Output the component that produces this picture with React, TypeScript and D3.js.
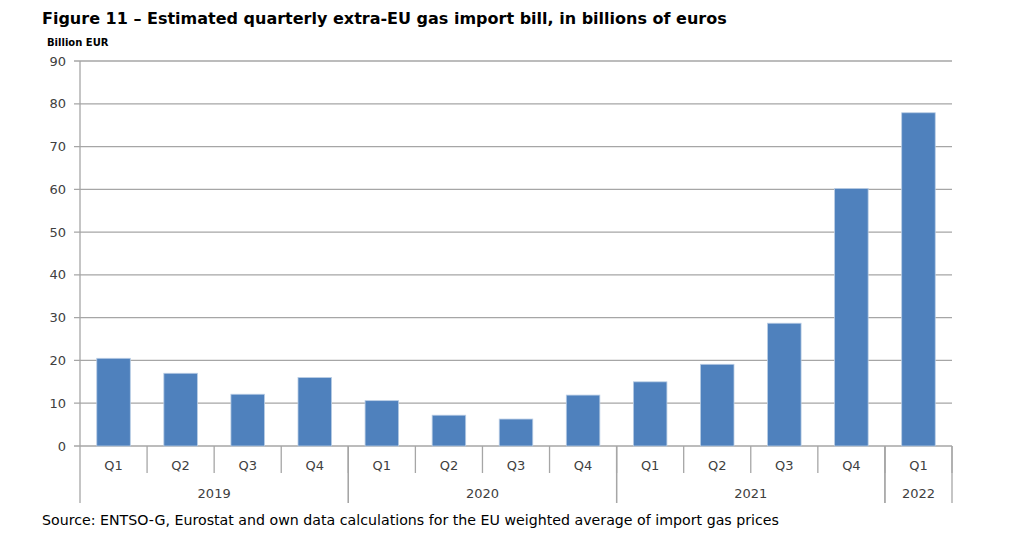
import * as React from 'react';
import * as d3 from 'd3';

const quarters = ['Q1', 'Q2', 'Q3', 'Q4', 'Q1', 'Q2', 'Q3', 'Q4', 'Q1', 'Q2', 'Q3', 'Q4', 'Q1'];
const years = ['2019', '2020', '2021', '2022'];
const quartersPerYear = [4, 4, 4, 1];
const importBill = [20.5, 17.0, 12.1, 16.0, 10.6, 7.2, 6.3, 11.9, 15.0, 19.1, 28.7, 60.2, 77.9];
const yTicks = [0, 10, 20, 30, 40, 50, 60, 70, 80, 90];

const WIDTH = 1024;
const HEIGHT = 547;
const MARGINS = { top: 61, right: 72, bottom: 101, left: 80 };
const FONT = '"DejaVu Sans", "Open Sans", sans-serif';

export default function App() {
    const x0 = MARGINS.left;
    const x1 = WIDTH - MARGINS.right;
    const yBottom = HEIGHT - MARGINS.bottom;

    const xScale = d3.scaleBand<number>()
        .domain(d3.range(quarters.length))
        .range([x0, x1])
        .paddingInner(0.5)
        .paddingOuter(0.25);
    const step = xScale.step();
    const yScale = d3.scaleLinear().domain([0, 90]).range([yBottom, MARGINS.top]);

    // year groups: start index along the quarter axis
    const yearStarts = d3.cumsum([0, ...quartersPerYear]);

    return (
        <svg width={WIDTH} height={HEIGHT} style={{ position: 'absolute', left: 0, top: 0, background: '#fff' }}>
            <text x={42} y={24} fontFamily={FONT} fontWeight={700} fontSize={16} fill="#000">
                Figure 11 – Estimated quarterly extra-EU gas import bill, in billions of euros
            </text>
            <text x={47} y={46} fontFamily={FONT} fontWeight={700} fontSize={10} fill="#000">
                Billion EUR
            </text>

            {yTicks.map((t) => (
                <g key={t}>
                    <line x1={x0 - 6} x2={x1} y1={yScale(t)} y2={yScale(t)} stroke="#a6a6a6" strokeWidth={1.3} />
                    <text x={66} y={yScale(t)} dy="0.35em" textAnchor="end" fontFamily={FONT} fontSize={13} fill="#404040">
                        {t}
                    </text>
                </g>
            ))}
            <line x1={x0} x2={x0} y1={MARGINS.top} y2={yBottom} stroke="#a6a6a6" strokeWidth={1.3} />

            {importBill.map((v, i) => (
                <rect key={i} x={xScale(i)} y={yScale(v)} width={xScale.bandwidth()} height={yBottom - yScale(v)}
                    fill="#4f81bd" stroke="#b8cce4" strokeWidth={0.8} />
            ))}

            {/* quarter row */}
            {quarters.map((q, i) => (
                <g key={'q' + i}>
                    <line x1={x0 + step * (i + 1)} x2={x0 + step * (i + 1)} y1={yBottom} y2={yBottom + 27}
                        stroke="#a6a6a6" strokeWidth={1.3} />
                    <text x={x0 + step * (i + 0.5)} y={465} dy="0.35em" textAnchor="middle" fontFamily={FONT} fontSize={13} fill="#404040">
                        {q}
                    </text>
                </g>
            ))}

            {/* year row */}
            {years.map((yr, j) => {
                const a = x0 + step * yearStarts[j];
                const b = x0 + step * yearStarts[j + 1];
                return (
                    <g key={yr}>
                        <line x1={a} x2={a} y1={yBottom} y2={503} stroke="#a6a6a6" strokeWidth={1.3} />
                        <line x1={b} x2={b} y1={yBottom} y2={503} stroke="#a6a6a6" strokeWidth={1.3} />
                        <text x={(a + b) / 2} y={493} dy="0.35em" textAnchor="middle" fontFamily={FONT} fontSize={13} fill="#404040">
                            {yr}
                        </text>
                    </g>
                );
            })}

            <text x={42} y={525} fontFamily={FONT} fontSize={14.2} fill="#000">
                Source: ENTSO-G, Eurostat and own data calculations for the EU weighted average of import gas prices
            </text>
        </svg>
    );
}
